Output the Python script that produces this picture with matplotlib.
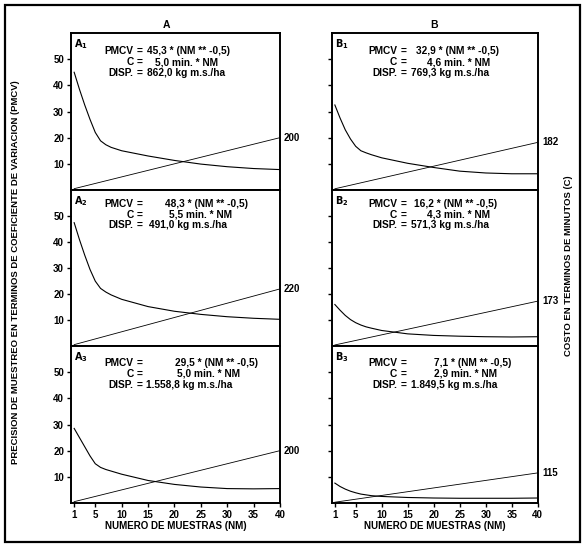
import matplotlib.pyplot as plt
from matplotlib.patches import Rectangle

# %% data
nm = [1, 2, 3, 4, 5, 6, 7, 8, 10, 15, 20, 25, 30, 35, 40]
pmcv_a1 = [45.0, 38.5, 32.5, 27.0, 22.0, 18.8, 17.3, 16.3, 15.0, 13.0, 11.3, 9.9, 8.9, 8.2, 7.8]
pmcv_a2 = [47.5, 41.0, 35.0, 29.5, 25.0, 22.2, 20.8, 19.7, 18.0, 15.2, 13.4, 12.2, 11.3, 10.7, 10.3]
pmcv_a3 = [28.5, 25.0, 21.5, 18.0, 15.0, 13.6, 12.8, 12.2, 11.0, 8.6, 7.1, 6.1, 5.5, 5.4, 5.5]
pmcv_b1 = [32.5, 27.5, 23.0, 19.5, 16.7, 15.0, 14.2, 13.5, 12.3, 10.2, 8.6, 7.2, 6.5, 6.2, 6.2]
pmcv_b2 = [16.0, 13.8, 11.8, 10.2, 9.0, 8.1, 7.4, 6.9, 6.0, 4.7, 4.1, 3.8, 3.6, 3.5, 3.6]
pmcv_b3 = [7.6, 6.3, 5.3, 4.5, 3.9, 3.4, 3.1, 2.8, 2.5, 2.1, 1.9, 1.8, 1.8, 1.8, 1.9]

# cost line (minutes) at NM = 1 and NM = 40
nm_cost = [1, 40]
cost_a1 = [5.0, 200]
cost_a2 = [5.5, 220]
cost_a3 = [5.0, 200]
cost_b1 = [4.6, 182]
cost_b2 = [4.3, 173]
cost_b3 = [2.9, 115]

eq_a1 = ["45,3 * (NM ** -0,5)", "5,0 min. * NM", "862,0 kg m.s./ha"]
eq_a2 = ["48,3 * (NM ** -0,5)", "5,5 min. * NM", "491,0 kg m.s./ha"]
eq_a3 = ["29,5 * (NM ** -0,5)", "5,0 min. * NM", "1.558,8 kg m.s./ha"]
eq_b1 = ["32,9 * (NM ** -0,5)", "4,6 min. * NM", "769,3 kg m.s./ha"]
eq_b2 = ["16,2 * (NM ** -0,5)", "4,3 min. * NM", "571,3 kg m.s./ha"]
eq_b3 = ["7,1 * (NM ** -0,5)", "2,9 min. * NM", "1.849,5 kg m.s./ha"]
eq_names = ["PMCV", "C", "DISP."]

x_ticks = [1, 5, 10, 15, 20, 25, 30, 35, 40]
y_ticks = [10, 20, 30, 40, 50]

panels = [
    ("A_1", pmcv_a1, cost_a1, eq_a1),
    ("A_2", pmcv_a2, cost_a2, eq_a2),
    ("A_3", pmcv_a3, cost_a3, eq_a3),
    ("B_1", pmcv_b1, cost_b1, eq_b1),
    ("B_2", pmcv_b2, cost_b2, eq_b2),
    ("B_3", pmcv_b3, cost_b3, eq_b3),
]

# %% layout
narrow = ["Liberation Sans Narrow", "Liberation Sans", "DejaVu Sans"]
plt.rcParams["font.family"] = ["Liberation Sans", "DejaVu Sans"]
plt.rcParams["font.weight"] = "bold"

fig = plt.figure(figsize=(5.82, 5.45), dpi=100)

col_x = [0.122, 0.570]
col_w = [0.359, 0.354]
row_y = [0.6514, 0.365, 0.0771]
row_h = [0.288, 0.286, 0.288]
text_y = [[0.885, 0.815, 0.745], [0.913, 0.843, 0.778], [0.895, 0.823, 0.75]]
val_x = [[0.365, 0.40, 0.365], [0.45, 0.47, 0.372], [0.50, 0.505, 0.36],
         [0.41, 0.46, 0.385], [0.40, 0.46, 0.385], [0.495, 0.495, 0.385]]
name_x = [0.300, 0.318]
eqs_x = [0.330, 0.350]
eq_fs = 7.3

for k, (lab, pmcv, cost, eq) in enumerate(panels):
    col, row = k // 3, k % 3
    ax = fig.add_axes([col_x[col], row_y[row], col_w[col], row_h[row]])
    ax.plot(nm, pmcv, color="black", lw=0.8)
    ax.set_xlim(0.4, 40)
    ax.set_ylim(0, 60)
    ax.set_yticks(y_ticks)
    ax.tick_params(direction="out", length=3, width=1, labelsize=7, pad=2)
    if col == 1:
        ax.set_yticklabels([])
    if row == 2:
        ax.set_xticks(x_ticks)
        ax.set_xlabel("NUMERO DE MUESTRAS (NM)", fontsize=7, fontweight="bold", labelpad=1)
    else:
        ax.set_xticks([])
    for s in ax.spines.values():
        s.set_linewidth(1.4)

    ax2 = ax.twinx()
    ax2.plot(nm_cost, cost, color="black", lw=0.6)
    ax2.set_ylim(0, 600)
    ax2.set_yticks([])
    for s in ax2.spines.values():
        s.set_visible(False)
    ax2.annotate(f"{cost[-1]:g}", xy=(nm_cost[-1], cost[-1]), xytext=(3, 0),
                 textcoords="offset points", ha="left", va="center",
                 fontsize=7, annotation_clip=False)

    ax.text(0.015, 0.975, r"$\mathbf{" + lab + "}$", transform=ax.transAxes,
            ha="left", va="top", fontsize=7)
    for i in range(3):
        ty = text_y[row][i]
        ax.text(name_x[col], ty, eq_names[i], transform=ax.transAxes,
                ha="right", va="center", fontsize=eq_fs, family=narrow)
        ax.text(eqs_x[col], ty, "=", transform=ax.transAxes,
                ha="center", va="center", fontsize=eq_fs, family=narrow)
        ax.text(val_x[k][i], ty, eq[i], transform=ax.transAxes,
                ha="left", va="center", fontsize=eq_fs, family=narrow)

fig.text(0.2866, 0.954, "A", ha="center", va="center", fontsize=7.5)
fig.text(0.7457, 0.954, "B", ha="center", va="center", fontsize=7.5)
fig.text(0.027, 0.5, "PRECISION DE MUESTREO EN TERMINOS DE COEFICIENTE DE VARIACION (PMCV)",
         rotation=90, ha="center", va="center", fontsize=6.8, family=narrow)
fig.text(0.977, 0.513, "COSTO EN TERMINOS DE MINUTOS (C)",
         rotation=90, ha="center", va="center", fontsize=6.8, family=narrow)

fig.patches.append(Rectangle((0.009, 0.006), 0.988, 0.985, transform=fig.transFigure,
                             fill=False, lw=1.6, ec="black"))

fig.savefig("out.png", dpi=100)
